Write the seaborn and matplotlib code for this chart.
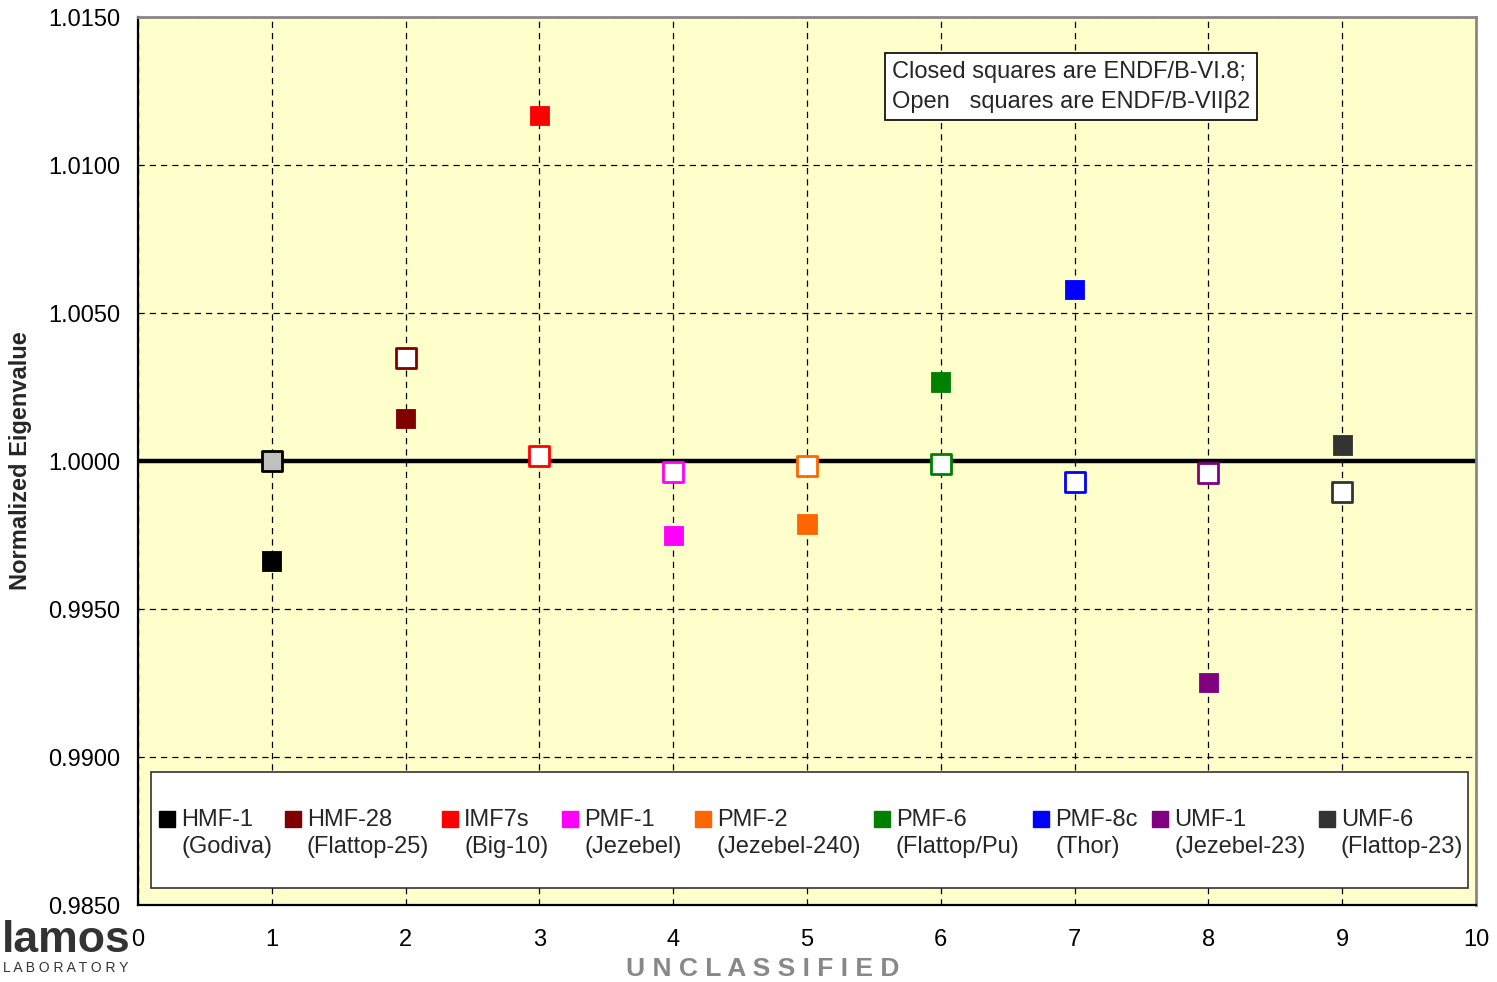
import matplotlib
matplotlib.use("Agg")
import matplotlib.pyplot as plt
from matplotlib.patches import Rectangle
import numpy as np
import pandas as pd
import seaborn as sns

# Benchmark cases, their nicknames and marker colours
cases = ["HMF-1", "HMF-28", "IMF7s", "PMF-1", "PMF-2", "PMF-6", "PMF-8c", "UMF-1", "UMF-6"]
nicknames = ["(Godiva)", "(Flattop-25)", "(Big-10)", "(Jezebel)", "(Jezebel-240)",
             "(Flattop/Pu)", "(Thor)", "(Jezebel-23)", "(Flattop-23)"]
positions = [1, 2, 3, 4, 5, 6, 7, 8, 9]
colors = ["#000000", "#800000", "#FF0000", "#FF00FF", "#FF6600",
          "#008000", "#0000FF", "#800080", "#333333"]

# Normalized eigenvalues: ENDF/B-VI.8 (closed) and ENDF/B-VIIbeta2 (open)
endf_b6 = [0.99662, 1.00145, 1.01166, 0.99747, 0.99787, 1.00267, 1.00578, 0.99253, 1.00054]
endf_b7 = [1.00000, 1.00348, 1.00017, 0.99963, 0.99983, 0.99990, 0.99929, 0.99959, 0.99895]

df = pd.DataFrame({"case": cases, "x": positions, "closed": endf_b6, "open": endf_b7})
palette = dict(zip(cases, colors))

sns.set_style("white")
plt.rcParams["font.family"] = ["Liberation Sans", "DejaVu Sans"]

W, H = 1497, 982
fig = plt.figure(figsize=(W / 100, H / 100), dpi=100)
ax = fig.add_axes([138 / W, 1 - 905 / H, (1476 - 138) / W, (905 - 17) / H])
ax.set_facecolor("#FFFFCC")

ax.set_xlim(0, 10)
ax.set_ylim(0.985, 1.015)

# grid
ax.set_xticks(np.arange(0, 11, 1))
ax.set_yticks(np.arange(0.985, 1.0151, 0.005))
ax.set_yticks(np.arange(0.985, 1.0151, 0.001), minor=True)
ax.grid(True, which="major", color="black", linestyle=(0, (5, 4)), linewidth=0.9)
ax.set_axisbelow(True)

# reference line at unity
ax.axhline(1.0, color="black", linewidth=3.2, zorder=2)

# closed squares
sns.scatterplot(data=df, x="x", y="closed", hue="case", palette=palette, marker="s",
                s=190, linewidth=0.6, edgecolor=None, legend=False, ax=ax, zorder=4)
# open squares (Godiva reference point is shaded grey)
faces = ["#C0C0C0" if c == "HMF-1" else "white" for c in cases]
for i, row in df.iterrows():
    sns.scatterplot(x=[row["x"]], y=[row["open"]], marker="s", s=190,
                    color=faces[i], edgecolor=palette[row["case"]], linewidth=2.0,
                    legend=False, ax=ax, zorder=4)

ax.set_xlabel("")
ax.set_ylabel("Normalized Eigenvalue", fontsize=17, fontweight="bold")
ax.yaxis.set_label_coords(-0.0795, 0.5)
ax.yaxis.set_major_formatter(matplotlib.ticker.FormatStrFormatter("%.4f"))
ax.tick_params(axis="both", which="both", direction="in", labelsize=17, colors="black")
ax.tick_params(axis="y", which="major", length=0, pad=13)
ax.tick_params(axis="y", which="minor", length=6, width=1)
ax.tick_params(axis="x", which="major", length=8, width=1, pad=17)

for side in ("left", "bottom"):
    ax.spines[side].set_color("black")
    ax.spines[side].set_linewidth(1.6)
for side in ("top", "right"):
    ax.spines[side].set_color("#888888")
    ax.spines[side].set_linewidth(2.0)

# library note
ax.text(0.5635, 0.951, "Closed squares are ENDF/B-VI.8;\nOpen   squares are ENDF/B-VIIβ2",
        transform=ax.transAxes, ha="left", va="top", fontsize=17, linespacing=1.4,
        bbox=dict(boxstyle="square,pad=0.3", facecolor="white", edgecolor="black", linewidth=1.2),
        zorder=6)

# legend panel
ax.add_patch(Rectangle((0.097, 0.98557), 9.843, 0.00392, facecolor="white",
                       edgecolor="#333333", linewidth=1.2, zorder=5))
key_x = [0.217, 1.158, 2.332, 3.229, 4.222, 5.560, 6.749, 7.638, 8.886]
for kx, name, nick, col in zip(key_x, cases, nicknames, colors):
    ax.plot([kx], [0.98790], marker="s", markersize=11, color=col, linestyle="none",
            zorder=6, clip_on=False)
    ax.text(kx + 0.105, 0.98788, name, ha="left", va="center", fontsize=17, zorder=6)
    ax.text(kx + 0.105, 0.98697, nick, ha="left", va="center", fontsize=17, zorder=6)

# footer marks
fig.text(131 / W, 1 - 952 / H, "lamos", ha="right", va="baseline", fontsize=32,
         fontweight="bold", color="#333333")
fig.text(128 / W, 1 - 972 / H, "L A B O R A T O R Y", ha="right", va="baseline",
         fontsize=10, color="#333333")
fig.text(763 / W, 1 - 976 / H, "U N C L A S S I F I E D", ha="center", va="baseline",
         fontsize=19, fontweight="bold", color="#888888")

fig.savefig("out.png", dpi=100)
